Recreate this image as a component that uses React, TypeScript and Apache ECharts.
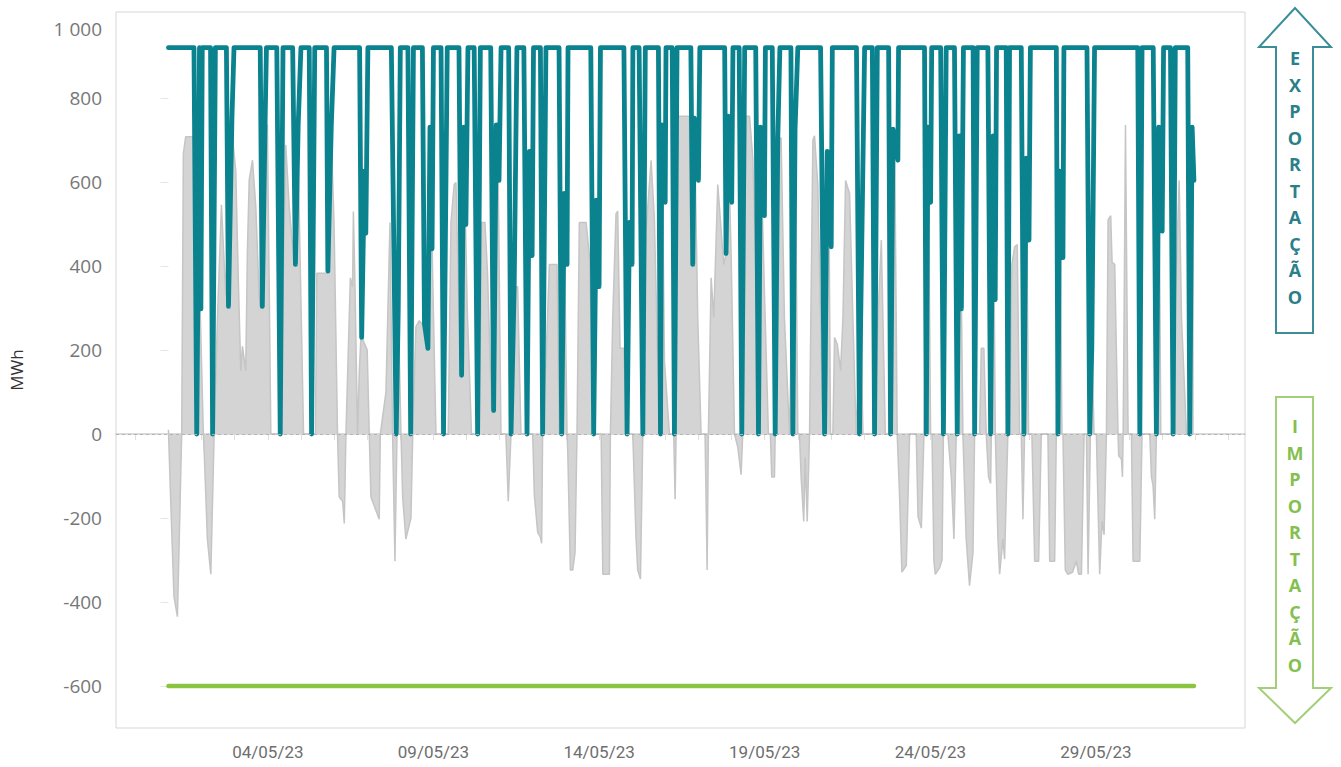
import React, { useEffect, useRef } from "react";
import * as echarts from "echarts";

// ---- data ----
const yTickValues = [-600, -400, -200, 0, 200, 400, 600, 800];
const yLabelValues = [-600, -400, -200, 0, 200, 400, 600, 800, 1000];
const dateLabels = ["04/05/23", "09/05/23", "14/05/23", "19/05/23", "24/05/23", "29/05/23"];
const dateLabelHours = [72, 192, 312, 432, 552, 672]; // hours since 01/05/23 00:00
const importLimit = -600;
const periodHours = [0, 743];
const exportLetters = ["E", "X", "P", "O", "R", "T", "A", "Ç", "Ã", "O"];
const importLetters = ["I", "M", "P", "O", "R", "T", "A", "Ç", "Ã", "O"];

// export capacity [hour, MWh]
const exportCapacity: number[][] = [
  [0, 920], [18.5, 920], [20.5, 0], [21.5, 404], [22.5, 920], [23.5, 298], [24.5, 920], [30.5, 920], [32, 0], [34, 920],
  [42, 920], [43.5, 304], [46, 752], [47.5, 920], [66.5, 920], [68, 304], [70, 736], [71, 920], [78.5, 920], [81, 0],
  [83, 920], [90, 920], [92, 404], [94, 736], [96, 920], [102, 920], [103.7, 0], [106, 920], [114.5, 920], [115.5, 388],
  [118, 736], [120, 920], [138.5, 920], [140, 230], [142, 626], [143, 478], [144.5, 920], [161.5, 920], [165, 0], [166.5, 298],
  [168, 920], [173.5, 920], [175.5, 0], [177.5, 920], [184, 920], [185.5, 262], [188, 204], [189.5, 731], [191, 441], [192, 920],
  [197.5, 920], [199.3, 0], [202, 920], [210.5, 920], [212.4, 140], [214, 731], [215.5, 499], [217, 920], [221.5, 920], [224, 0],
  [226, 920], [233.5, 920], [235.6, 56], [237.5, 736], [239.5, 604], [241, 920], [246.5, 920], [248.2, 0], [250.5, 351], [252.5, 920],
  [257.5, 920], [259.8, 0], [261.5, 673], [263.5, 425], [264.5, 920], [269.5, 920], [271.1, 0], [273.5, 920], [283, 920], [284.9, 0],
  [286.8, 573], [288.8, 404], [289.5, 920], [306, 920], [308.1, 0], [310, 557], [312, 351], [313, 920], [330, 920], [332.3, 0],
  [334, 504], [335.9, 404], [336.5, 920], [341, 920], [343.7, 0], [345.5, 920], [355, 920], [356.5, 0], [357.5, 736], [359.9, 552],
  [360.5, 920], [365, 920], [366.6, 0], [368.5, 920], [378.5, 920], [379.9, 404], [381, 752], [384, 604], [385, 920], [403, 920],
  [404, 430], [405.5, 757], [408.1, 552], [409, 920], [413.5, 920], [415.4, 0], [417.5, 920], [425.5, 920], [427.5, 0], [429, 731],
  [431.8, 520], [432.5, 920], [437.5, 920], [439.6, 0], [441.5, 705], [443, 920], [451, 920], [452.4, 0], [454, 726], [456, 920],
  [472.5, 920], [475.4, 0], [477.3, 673], [480.2, 446], [481, 920], [498.5, 920], [500.7, 0], [501.5, 262], [504.4, 920], [510, 920],
  [511.6, 0], [513.6, 920], [521.8, 920], [523.2, 0], [525, 726], [528.5, 652], [529, 920], [547.8, 920], [549.1, 0], [550.3, 731],
  [552.2, 552], [553, 920], [559.5, 920], [561.5, 0], [563.5, 920], [569.5, 920], [571.5, 0], [573, 710], [574.5, 298], [576, 920],
  [583, 920], [584.1, 0], [586, 920], [593.7, 920], [595.7, 0], [597.5, 710], [599, 320], [600, 920], [607, 920], [608.2, 0],
  [609.4, 920], [617.9, 920], [619.8, 0], [621.5, 657], [623.5, 462], [624.5, 920], [643.3, 920], [644.5, 0], [645.7, 626], [648.1, 420],
  [648.8, 920], [665.5, 920], [667.5, 0], [669, 204], [671, 920], [702.3, 920], [703.8, 0], [705.4, 920], [713.5, 920], [715.8, 0],
  [717.5, 731], [720, 483], [721, 920], [726, 920], [727.9, 0], [729.5, 920], [738.5, 920], [740, 0], [741.7, 731], [743, 604],
];

// net flow [hour, MWh]
const netFlow: number[][] = [
  [0, 10], [1.5, -145], [4, -387], [6.5, -435], [9.6, 0], [10.8, 668], [12.5, 708], [18.6, 708], [20, 404], [22.2, 404],
  [25.3, 0], [26, -50], [28.2, -250], [30.7, -334], [33.1, 0], [35.5, 277], [38.4, 546], [41.5, 330], [45.2, 747], [48.8, 626],
  [50.5, 383], [52.4, 151], [53.6, 209], [56, 151], [57.2, 436], [58.5, 605], [60.9, 652], [63.3, 541], [65.7, 330], [66.9, 298],
  [70.5, 736], [71.7, 736], [74.2, 0], [81, 0], [85, 689], [87.5, 541], [91.1, 404], [93.5, 736], [97.9, 0], [106.5, 0],
  [107.5, 383], [115.3, 383], [117.7, 736], [120, 500], [122.5, 0], [123.7, -150], [126.2, -160], [127.4, -213], [128.6, 0], [131.8, 372],
  [133.4, 350], [134, 530], [135, 380], [137, 0], [138.3, 151], [139.5, 235], [144, 200], [145.5, 0], [146.7, -150], [152.7, -203],
  [153.5, 0], [157.6, 100], [160.5, 504], [162.4, 0], [164.1, -303], [165.6, 0], [166.5, 298], [168.5, 0], [169.7, -150], [172, -250],
  [175.7, -200], [177, 0], [179.3, 256], [181.8, 270], [185.3, 256], [188.2, 204], [189.7, 731], [191.4, 383], [193.8, 0], [202.7, 0],
  [204.7, 504], [207, 594], [208.3, 599], [210.7, 277], [212.4, 140], [213.8, 731], [216.5, 298], [219.6, 0], [225.2, 0], [226.9, 504],
  [229.3, 504], [231.2, 383], [234.1, 61], [235.6, 56], [237.5, 736], [239, 594], [240.9, 0], [244.5, 0], [246.2, -160], [248.2, 0],
  [249.4, 351], [253, 351], [255.4, 0], [263.9, 0], [265.1, -145], [267.5, -234], [269.4, -245], [270.4, -260], [271.1, 0], [273.5, 172],
  [276, 404], [281.5, 404], [283.2, 0], [284.9, 0], [286.4, 573], [288.8, 0], [289.3, -39], [291.2, -324], [292.9, -324], [294.6, -282],
  [296, 0], [297.7, 504], [302.6, 504], [305, 425], [308.1, 0], [313.5, 0], [314.7, -334], [319.5, -334], [320.2, 0], [321.9, 277],
  [324.3, 525], [325.5, 531], [327.2, 204], [329.9, 204], [332.3, 0], [336.4, 0], [336.8, -39], [338.8, -250], [340, -324], [342, -345],
  [343.7, 0], [346.1, 488], [349.7, 652], [352.1, 510], [354.5, 172], [356.5, 0], [357.5, 736], [359.4, 172], [363, 0], [366.1, 0],
  [367.1, -155], [367.8, 0], [369, 757], [377.4, 757], [378.6, 404], [381, 752], [383.5, 277], [385.9, 0], [388.8, 0], [390.3, -324],
  [391.2, 0], [393.2, 372], [395.1, 277], [398, 594], [400.4, 488], [402.3, 404], [404, 430], [405.2, 757], [407.7, 425], [410.1, 0],
  [412.5, -31], [414.9, -97], [416.1, 0], [418.5, 757], [421, 757], [423.4, 657], [426.5, 277], [427.5, 0], [428.7, 731], [431.8, 341],
  [434.7, 0], [436.1, 0], [437.1, -102], [439.1, -102], [439.6, 0], [441.5, 705], [443.9, 705], [446.3, 277], [450, 0], [454, 726],
  [456, 0], [457.2, 0], [458.4, -102], [460.3, -208], [461.3, -56], [462.8, -208], [464.5, 0], [466.9, 700], [468.1, 710], [470.5, 594],
  [474.2, 0], [477.3, 673], [478.3, 673], [479.7, 0], [481.4, 0], [482.6, 230], [484.6, 214], [487, 151], [488.7, 277], [490.6, 604],
  [493.5, 573], [495.9, 277], [498.3, 0], [501.5, 262], [503.2, 0], [511.6, 0], [514.1, 277], [516.5, 462], [519.4, 0], [524.5, 0],
  [525, 726], [526.1, 726], [528, 0], [529.7, -145], [531.4, -329], [534.6, -313], [537, 0], [541.8, 0], [543.1, -197], [545.5, -224],
  [547.4, 0], [550.3, 731], [552.2, 0], [553.2, 0], [554.6, -303], [555.6, -334], [558.8, -318], [560.5, -300], [561.5, 0], [564.7, 0],
  [567.2, -102], [569.1, -250], [570.8, 0], [573.2, 710], [575.6, 0], [578, -250], [580.4, -361], [582.9, -283], [584.1, 0], [587.7, 0],
  [588.9, 204], [590.8, 204], [592.5, 0], [594.2, -102], [595.7, -118], [596.2, 0], [597.4, 710], [599.1, 0], [601, -250], [602.2, -334],
  [604.6, -250], [605.8, -298], [608.2, 0], [609.4, 0], [611.1, 404], [613.1, 446], [615, 451], [616.7, 0], [617.9, 0], [619.1, -203],
  [620.3, 0], [621.5, 657], [623.2, 0], [625.6, 0], [627.6, -303], [630.5, -303], [632.4, 0], [637.2, 0], [638.5, -303], [642.1, -303],
  [643.3, 0], [645.7, 626], [647.4, 0], [648.1, 0], [649.8, -324], [651.7, -334], [655, -329], [657.8, -303], [659.5, -334], [661.5, -334],
  [663.4, 0], [665.1, 0], [666.3, -334], [668, 0], [669.2, 204], [670.6, 0], [672.3, 0], [674.7, -334], [676.4, -208], [677.9, -240],
  [679.6, 0], [680.8, 510], [682.7, 520], [683.7, 409], [685.6, 404], [688, 0], [688.5, -52], [690.5, -60], [691.2, -102], [691.7, 0],
  [692.4, 277], [693.4, 736], [695.3, 0], [697.7, 0], [698.9, -303], [703.8, -303], [705.4, 0], [711, 0], [712.2, -102], [713.4, -123],
  [714.6, -203], [715.8, 0], [717.5, 731], [719, 0], [726.7, 0], [729.1, 277], [732.3, 604], [734, 277], [737.6, 0], [740, 0],
  [741.7, 731], [743, 600],
];

const TEAL = "#0a838f";
const GREEN = "#8bc53f";

export default function App() {
  const ref = useRef<HTMLDivElement>(null);

  useEffect(() => {
    document.body.style.margin = "0";
    const chart = echarts.init(ref.current!, null, { renderer: "svg" });

    const dayTicks: number[] = [];
    for (let h = -24; h <= 768; h += 24) dayTicks.push(h);

    const fmtY = (v: number) => (v === 1000 ? "{top|1 000}" : String(v));

    chart.setOption({
      animation: false,
      grid: {
        left: 110,
        right: 96,
        top: 12,
        bottom: 39,
        show: true,
        borderColor: "#d6d6d6",
        borderWidth: 1,
        containLabel: false,
      },
      xAxis: {
        type: "value",
        min: -38,
        max: 780,
        splitLine: { show: false },
        axisLine: { show: true, lineStyle: { color: "#cfcfcf", width: 1.5 } },
        axisTick: {
          show: true,
          customValues: dayTicks,
          length: 6,
          lineStyle: { color: "#e0e0e0" },
        },
        axisLabel: {
          customValues: dateLabelHours,
          formatter: (v: number) => dateLabels[dateLabelHours.indexOf(v)] ?? "",
          color: "#6e6e6e",
          fontSize: 17,
          fontFamily: "Roboto, sans-serif",
          margin: 15,
        },
      },
      yAxis: {
        type: "value",
        min: -700,
        max: 1005,
        name: "MWh",
        nameLocation: "middle",
        nameRotate: 90,
        nameGap: 91,
        nameTextStyle: { fontSize: 17, color: "#333", fontFamily: "Open Sans, sans-serif" },
        splitLine: { show: false },
        axisLine: { show: false },
        axisTick: {
          show: true,
          customValues: yTickValues,
          length: 8,
          lineStyle: { color: "#e6e6e6" },
        },
        axisLabel: {
          customValues: yLabelValues,
          formatter: fmtY,
          color: "#777",
          fontSize: 19,
          fontFamily: "Open Sans, sans-serif",
          margin: 14,
          rich: {
            top: {
              padding: [30, 0, 0, 0],
              color: "#777",
              fontSize: 19,
              fontFamily: "Open Sans, sans-serif",
            },
          },
        },
      },
      series: [
        {
          name: "Saldo",
          type: "line",
          data: netFlow,
          symbol: "none",
          lineStyle: { color: "#c5c5c5", width: 1.5 },
          areaStyle: { color: "#d4d4d4", opacity: 1, origin: 0 },
          markLine: {
            silent: true,
            symbol: ["none", "none"],
            label: { show: false },
            lineStyle: { type: [3, 3], color: "#b3b3b3", width: 1 },
            data: [{ yAxis: 0 }],
          },
          z: 1,
        },
        {
          name: "Capacidade Exportação",
          type: "line",
          data: exportCapacity,
          symbol: "none",
          lineStyle: { color: TEAL, width: 4.8, cap: "round", join: "round" },
          z: 3,
        },
        {
          name: "Capacidade Importação",
          type: "line",
          data: periodHours.map((h) => [h, importLimit]),
          symbol: "none",
          lineStyle: { color: GREEN, width: 4.5, cap: "round" },
          z: 3,
        },
      ],
      graphic: [
        {
          type: "polygon",
          shape: {
            points: [
              [1276, 333], [1276, 47], [1259, 47], [1295, 8], [1331, 47], [1313, 47], [1313, 333],
            ],
          },
          style: { fill: "rgba(0,0,0,0)", stroke: "#3b8e98", lineWidth: 2 },
        },
        {
          type: "text",
          x: 1295,
          y: 45,
          style: {
            text: exportLetters.join("\n"),
            align: "center",
            verticalAlign: "top",
            lineHeight: 26.5,
            fontSize: 18,
            fontWeight: "bold",
            fontFamily: "Open Sans, sans-serif",
            fill: "#2a7f8a",
          },
        },
        {
          type: "polygon",
          shape: {
            points: [
              [1276, 397], [1276, 688], [1259, 688], [1295, 723], [1331, 688], [1313, 688], [1313, 397],
            ],
          },
          style: { fill: "rgba(0,0,0,0)", stroke: "#a3cf78", lineWidth: 2 },
        },
        {
          type: "text",
          x: 1295,
          y: 413,
          style: {
            text: importLetters.join("\n"),
            align: "center",
            verticalAlign: "top",
            lineHeight: 26.5,
            fontSize: 18,
            fontWeight: "bold",
            fontFamily: "Open Sans, sans-serif",
            fill: "#84bf4f",
          },
        },
      ],
    });

    return () => chart.dispose();
  }, []);

  return <div ref={ref} style={{ width: 1341, height: 767 }} />;
}
